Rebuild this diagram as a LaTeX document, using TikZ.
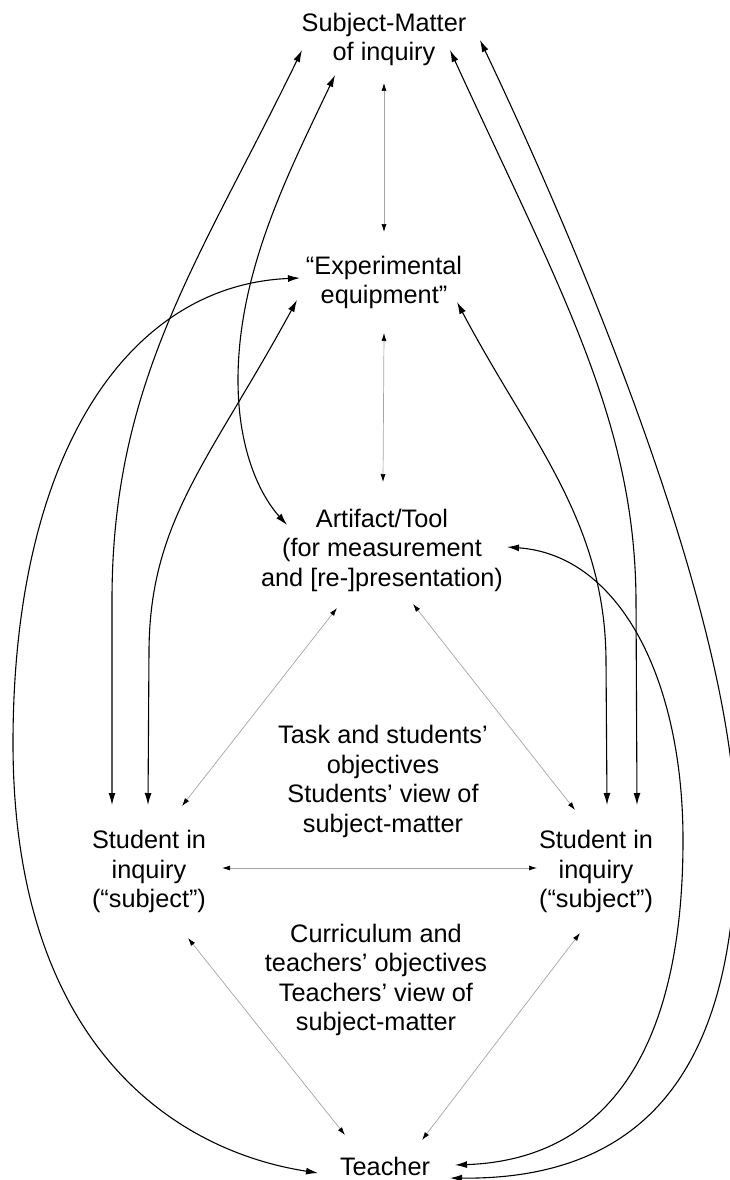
\documentclass[tikz,border=0pt]{standalone}
\usepackage{fontspec}
\setmainfont{Liberation Sans}
\usetikzlibrary{arrows.meta}
\definecolor{faintgray}{RGB}{165,165,165}
\begin{document}
\begin{tikzpicture}[x=1pt,y=-1pt,
  lbl/.style={align=center,inner sep=0pt,font=\fontsize{25.3}{29.5}\selectfont},
  strong/.style={line width=1.1pt,{Latex[length=12pt,width=7pt]}-{Latex[length=12pt,width=7pt]}},
  faint/.style={draw=faintgray,line width=0.7pt,{Latex[length=8pt,width=5pt,color=black]}-{Latex[length=8pt,width=5pt,color=black]}}]
\fill[white] (0,0) rectangle (729,1180);
\useasboundingbox (0,0) rectangle (729,1180);

% nodes
\node[lbl] (SM) at (384,39.5) {Subject-Matter\\of inquiry};
\node[lbl] (EE) at (384,282.5) {“Experimental\\equipment”};
\node[lbl] (AT) at (382,550) {Artifact/Tool\\(for measurement\\and [re-]presentation)};
\node[lbl] (L1) at (383,781.5) {Task and students’\\objectives\\Students’ view of\\subject-matter};
\node[lbl] (SL) at (149,871.5) {Student in\\inquiry\\(“subject”)};
\node[lbl] (SR) at (596,871.5) {Student in\\inquiry\\(“subject”)};
\node[lbl] (L2) at (376,980) {Curriculum and\\teachers’ objectives\\Teachers’ view of\\subject-matter};
\node[lbl] (T) at (385,1166.5) {Teacher};

% thin gray connectors
\draw[faint] ([shift={(0,43.5)}]SM.center) -- ([shift={(0,-50.5)}]EE.center);
\draw[faint] ([shift={(0,50.5)}]EE.center) -- ([shift={(1,-68)}]AT.center);
\draw[faint] ([shift={(-45,58)}]AT.center) -- ([shift={(33,-65.5)}]SL.center);
\draw[faint] ([shift={(31,54)}]AT.center) -- ([shift={(-21,-61.5)}]SR.center);
\draw[faint] ([shift={(73,-3.5)}]SL.center) -- ([shift={(-59,-3.5)}]SR.center);
\draw[faint] ([shift={(39,66.5)}]SL.center) -- ([shift={(-40,-31.5)}]T.center);
\draw[faint] ([shift={(-16,61.5)}]SR.center) -- ([shift={(37,-26.5)}]T.center);

% black connectors
% Subject-Matter -- left student
\draw[strong] ([shift={(-82,10.5)}]SM.center) .. controls (200,260) and (112,380) .. (112,600) -- ([shift={(-37,-66.5)}]SL.center);
% Subject-Matter -- Artifact
\draw[strong] ([shift={(-49,35.5)}]SM.center) .. controls (290,170) and (238,270) .. (238,380) .. controls (238,450) and (260,495) .. ([shift={(-95,-25)}]AT.center);
% Subject-Matter -- right student
\draw[strong] ([shift={(66,10.5)}]SM.center) .. controls (560,290) and (635,420) .. (636,600) -- ([shift={(41,-66.5)}]SR.center);
% Subject-Matter -- Teacher
\draw[strong] ([shift={(96,0.5)}]SM.center) .. controls (580,250) and (736,620) .. (736,835) .. controls (736,1075) and (640,1180) .. ([shift={(65,11.5)}]T.center);
% Equipment -- Teacher (left)
\draw[strong] ([shift={(-84,-4.5)}]EE.center) .. controls (130,285) and (14,450) .. (13,740) .. controls (12,1040) and (170,1150) .. ([shift={(-67,6.5)}]T.center);
% Equipment -- left student
\draw[strong] ([shift={(-87,17.5)}]EE.center) .. controls (210,460) and (150,520) .. (149,650) -- ([shift={(-1,-66.5)}]SL.center);
% Equipment -- right student
\draw[strong] ([shift={(73,19.5)}]EE.center) .. controls (530,440) and (605,520) .. (606,660) -- ([shift={(11,-66.5)}]SR.center);
% Artifact -- Teacher
\draw[strong] ([shift={(125,-3)}]AT.center) .. controls (620,555) and (683,680) .. (683,840) .. controls (683,1060) and (600,1160) .. ([shift={(70,-1.5)}]T.center);
\end{tikzpicture}
\end{document}
